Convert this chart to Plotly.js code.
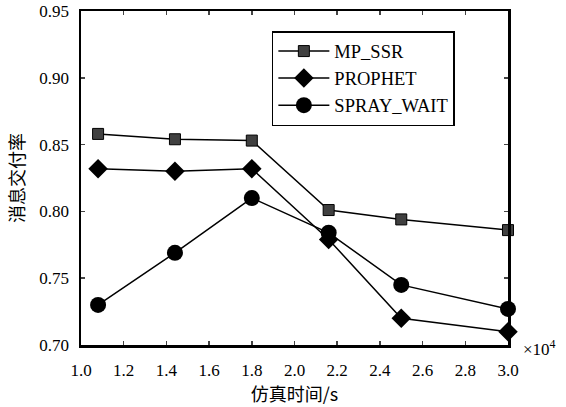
<!DOCTYPE html>
<html><head><meta charset="utf-8">
<script src="https://cdn.plot.ly/plotly-3.0.1.min.js"></script>
<style>body{margin:0;background:#fff}#c{width:566px;height:407px}</style>
</head><body><div id="c"></div>
<script>
const simTime = [1.08, 1.44, 1.80, 2.16, 2.50, 3.00];
const mpSsr = [0.858, 0.854, 0.853, 0.801, 0.794, 0.786];
const prophet = [0.832, 0.830, 0.832, 0.779, 0.720, 0.710];
const sprayWait = [0.730, 0.769, 0.810, 0.784, 0.745, 0.727];
const xTicks = [1.0, 1.2, 1.4, 1.6, 1.8, 2.0, 2.2, 2.4, 2.6, 2.8, 3.0];
const yTicks = [0.70, 0.75, 0.80, 0.85, 0.90, 0.95];

const serif = "Liberation Serif";
const cjk = "Noto Sans CJK SC";
const line = {color: "#000", width: 1.5};
const traces = [
  {x: simTime, y: mpSsr, name: "MP_SSR", mode: "lines+markers", line: line, cliponaxis: false,
   marker: {symbol: "square", size: 11, color: "#404040", line: {color: "#000", width: 1}}},
  {x: simTime, y: prophet, name: "PROPHET", mode: "lines+markers", line: line, cliponaxis: false,
   marker: {symbol: "diamond", size: 15, color: "#000"}},
  {x: simTime, y: sprayWait, name: "SPRAY_WAIT", mode: "lines+markers", line: line, cliponaxis: false,
   marker: {symbol: "circle", size: 16, color: "#000"}}
];
const layout = {
  width: 566, height: 407,
  margin: {l: 81, r: 58, t: 11, b: 62},
  paper_bgcolor: "#fff", plot_bgcolor: "#fff",
  font: {family: serif, size: 16, color: "#000"},
  showlegend: true,
  legend: {x: 0.447, y: 0.94, xanchor: "left", yanchor: "top", bordercolor: "#000", borderwidth: 1.5,
    bgcolor: "#fff", font: {family: serif, size: 18.5}, tracegroupgap: 0, itemwidth: 51},
  xaxis: {range: [1.0, 3.0], tickvals: xTicks, ticktext: xTicks.map(v => v.toFixed(1)),
    ticks: "inside", ticklen: 4, tickwidth: 1.5, mirror: "ticks", showline: true, linewidth: 2.5, linecolor: "#000",
    showgrid: false, zeroline: false, tickfont: {family: serif, size: 17}, ticklabelstandoff: 8,
    title: {text: "仿真时间/s", font: {family: cjk, size: 18}, standoff: 4}},
  yaxis: {range: [0.70, 0.95], tickvals: yTicks, ticktext: yTicks.map(v => v.toFixed(2)),
    ticks: "inside", ticklen: 4, tickwidth: 1.5, mirror: "ticks", showline: true, linewidth: 2.5, linecolor: "#000",
    showgrid: false, zeroline: false, tickfont: {family: serif, size: 17}, ticklabelstandoff: 6,
    title: {text: "消息交付率", font: {family: cjk, size: 18}, standoff: 10}},
  annotations: [{text: "×10<sup>4</sup>", xref: "paper", yref: "paper", x: 1.03, y: -0.01,
    xanchor: "left", yanchor: "middle", showarrow: false, font: {family: serif, size: 17}}]
};
Plotly.newPlot("c", traces, layout, {displayModeBar: false, staticPlot: true});
</script></body></html>
